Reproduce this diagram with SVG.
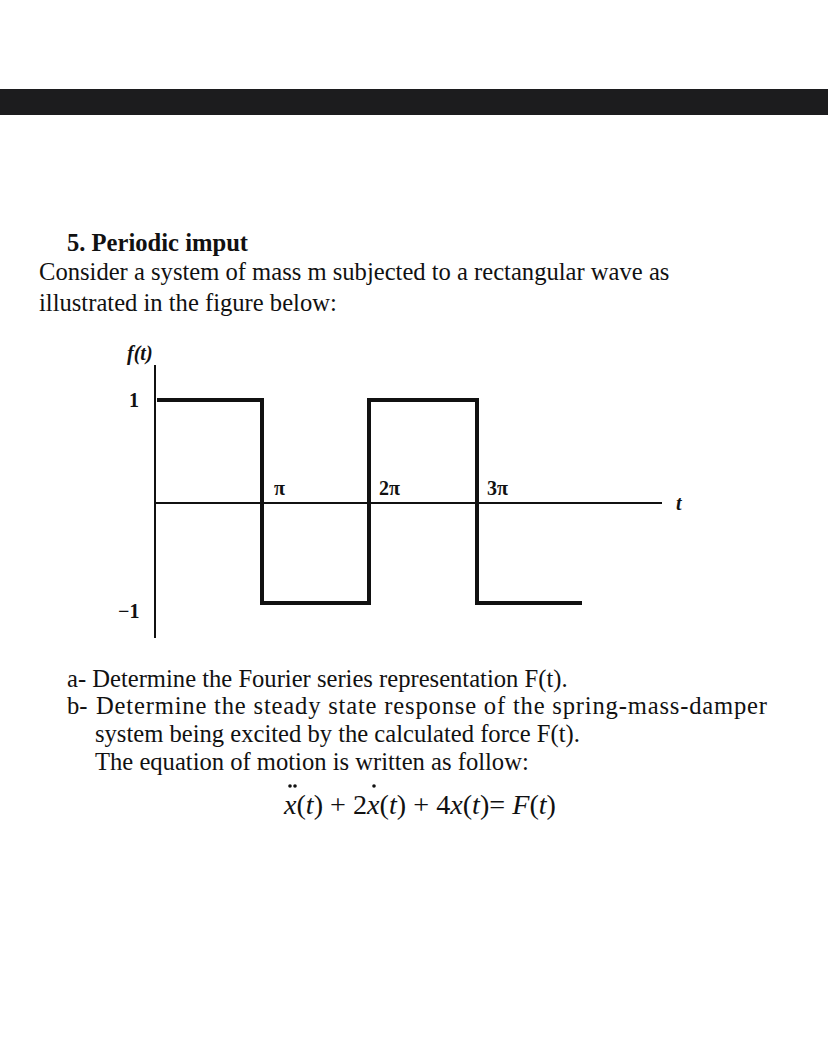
<svg xmlns="http://www.w3.org/2000/svg" width="828" height="1052" viewBox="0 0 828 1052">
<style>
.t{font-family:"Liberation Serif",serif;font-size:24.6px;fill:#111}
.b{font-weight:bold}
.g{font-family:"Liberation Serif",serif;font-weight:bold;font-size:20px;fill:#111}
.w{fill:none;stroke:#111;stroke-width:4;stroke-linejoin:miter}
.ax{fill:none;stroke:#111;stroke-width:2}
.eq{font-family:"Liberation Serif",serif;font-size:28px;fill:#111}
</style>
<rect width="828" height="1052" fill="#fff"/>
<rect x="0" y="89" width="828" height="26" fill="#1c1c1e"/>
<g id="heading">
<text class="t b" x="67" y="251">5. Periodic imput</text>
<text class="t" x="39" y="280">Consider a system of mass m subjected to a rectangular wave as</text>
<text class="t" x="39" y="311">illustrated in the figure below:</text>
</g>
<g id="graph">
<path class="ax" d="M155 365 V638 M155 503 H662"/>
<path class="w" d="M157 400 H262 V603 H369 V400 H477 V603 H582"/>
<text class="g" x="127" y="360" font-style="italic">f(t)</text>
<text class="g" x="129" y="407">1</text>
<text class="g" x="118" y="618">−1</text>
<text class="g" x="274" y="495">π</text>
<text class="g" x="379" y="495">2π</text>
<text class="g" x="487" y="495">3π</text>
<text class="g" x="676" y="510" font-style="italic">t</text>
</g>
<g id="questions">
<text class="t" x="67" y="687">a- Determine the Fourier series representation F(t).</text>
<text class="t" x="67" y="714">b-</text>
<text class="t" x="96" y="714" textLength="671" lengthAdjust="spacing">Determine the steady state response of the spring-mass-damper</text>
<text class="t" x="95" y="742">system being excited by the calculated force F(t).</text>
<text class="t" x="95" y="770">The equation of motion is written as follow:</text>
</g>
<g id="equation">
<text class="eq" x="284" y="814" textLength="272" lengthAdjust="spacingAndGlyphs"><tspan font-style="italic">x</tspan>(<tspan font-style="italic">t</tspan>) + 2<tspan font-style="italic">x</tspan>(<tspan font-style="italic">t</tspan>) + 4<tspan font-style="italic">x</tspan>(<tspan font-style="italic">t</tspan>)= <tspan font-style="italic">F</tspan>(<tspan font-style="italic">t</tspan>)</text>
<circle cx="290" cy="786" r="1.8" fill="#111"/><circle cx="295" cy="786" r="1.8" fill="#111"/>
<circle cx="374" cy="786" r="1.8" fill="#111"/>
</g>
</svg>
